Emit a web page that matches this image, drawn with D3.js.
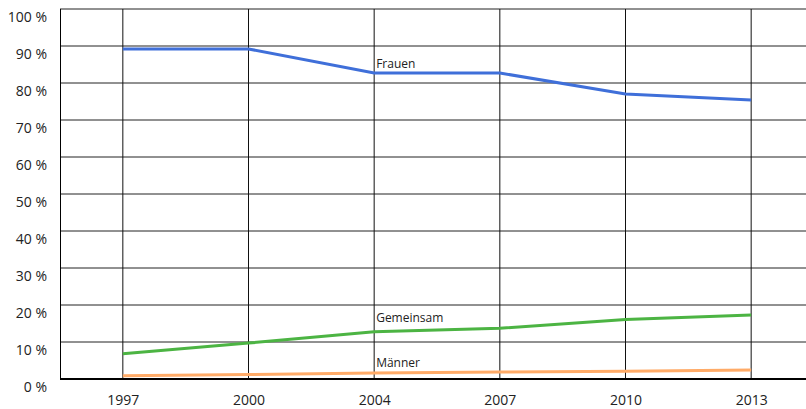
<!DOCTYPE html>
<html lang="de">
<head>
<meta charset="UTF-8">
<title>Frauen / Gemeinsam / Männer</title>
<script src="https://cdn.jsdelivr.net/npm/d3@7"></script>
<style>
  body { margin: 0; background: #fff; }
  svg { display: block; font-family: "Open Sans", sans-serif; }
</style>
</head>
<body>
<script>
'use strict';

// Daten
var jahre = ['1997', '2000', '2004', '2007', '2010', '2013'];
var frauen = [89.2, 89.2, 82.7, 82.7, 77.0, 75.4];
var gemeinsam = [6.8, 9.7, 12.8, 13.7, 16.1, 17.3];
var maenner = [0.9, 1.2, 1.6, 1.9, 2.1, 2.4];
var yTicks = [0, 10, 20, 30, 40, 50, 60, 70, 80, 90, 100];

var w = 806, h = 409;
var pLeft = 60, pTop = 9, pBottom = 379, pRight = 814;

var svg = d3.select('body').append('svg')
    .attr('width', w)
    .attr('height', h);

var x = d3.scalePoint()
    .domain(jahre)
    .range([pLeft, pRight])
    .padding(0.5);

var y = d3.scaleLinear()
    .domain([0, 100])
    .range([pBottom, pTop]);

// Gitter horizontal
svg.append('g')
    .selectAll('line')
    .data(yTicks.filter(function(t) { return t > 0; }))
    .enter().append('line')
    .attr('x1', pLeft).attr('x2', pRight)
    .attr('y1', function(d) { return y(d); })
    .attr('y2', function(d) { return y(d); })
    .attr('stroke', '#222')
    .attr('stroke-width', 1);

// Gitter vertikal
svg.append('g')
    .selectAll('line')
    .data(jahre)
    .enter().append('line')
    .attr('x1', function(d) { return x(d); })
    .attr('x2', function(d) { return x(d); })
    .attr('y1', pTop).attr('y2', pBottom)
    .attr('stroke', '#111')
    .attr('stroke-width', 1);

// linke Achse
svg.append('line')
    .attr('x1', pLeft + 0.5).attr('x2', pLeft + 0.5)
    .attr('y1', pTop).attr('y2', pBottom)
    .attr('stroke', '#000');

// y-Beschriftung (etwas unterhalb der Gitterlinie)
var axisL = d3.axisLeft(y)
    .tickValues(yTicks)
    .tickSize(0)
    .tickPadding(13)
    .tickFormat(function(d) { return d + ' %'; });

var gL = svg.append('g')
    .attr('transform', 'translate(' + pLeft + ',8)')
    .call(axisL);
gL.select('.domain').remove();
gL.selectAll('text')
    .attr('font-family', '"Open Sans", sans-serif')
    .attr('font-size', 14)
    .attr('fill', '#222');

// x-Achse
var axisB = d3.axisBottom(x)
    .tickSize(0)
    .tickPadding(16);

var gB = svg.append('g')
    .attr('transform', 'translate(0,' + pBottom + ')')
    .call(axisB);
gB.select('.domain').remove();
gB.selectAll('text')
    .attr('font-family', '"Open Sans", sans-serif')
    .attr('font-size', 14)
    .attr('fill', '#222');

svg.append('line')
    .attr('x1', pLeft).attr('x2', pRight)
    .attr('y1', pBottom).attr('y2', pBottom)
    .attr('stroke', '#000')
    .attr('stroke-width', 2);

// Linien
var reihen = [
    { name: 'Frauen', werte: frauen, farbe: '#3f6fd9', dy: -5 },
    { name: 'Gemeinsam', werte: gemeinsam, farbe: '#4cb443', dy: -10 },
    { name: 'Männer', werte: maenner, farbe: '#ffab68', dy: -6 }
];

var line = d3.line()
    .x(function(d, i) { return x(jahre[i]); })
    .y(function(d) { return y(d); });

reihen.forEach(function(r) {
    svg.append('path')
        .attr('d', line(r.werte))
        .attr('fill', 'none')
        .attr('stroke', r.farbe)
        .attr('stroke-width', 3);

    svg.append('text')
        .attr('x', x('2004') + 2)
        .attr('y', y(r.werte[2]) + r.dy)
        .attr('font-size', 12)
        .attr('fill', '#222')
        .text(r.name);
});
</script>
</body>
</html>
